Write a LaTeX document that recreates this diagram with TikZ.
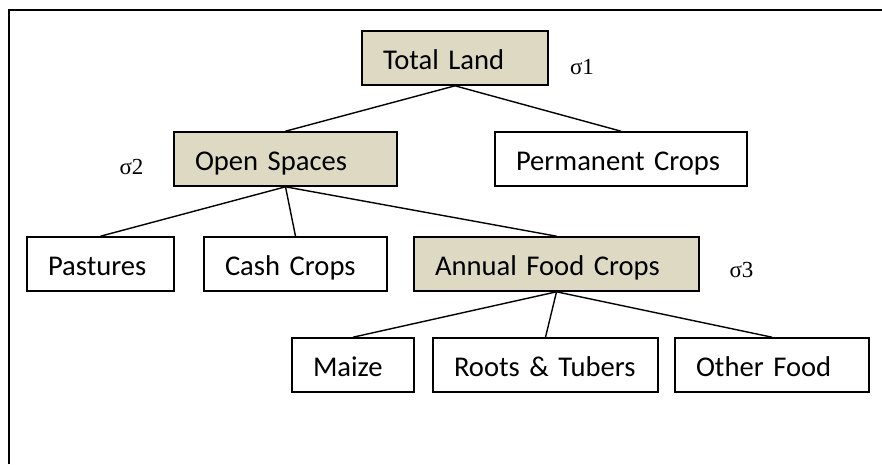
\documentclass[tikz,border=0pt]{standalone}
\usepackage{fontspec}
\setmainfont{Carlito}
\newfontfamily\sigfont{Liberation Serif}
\usepackage{xcolor}
\definecolor{tanfill}{RGB}{221,217,195}

\begin{document}
\begin{tikzpicture}[x=1pt,y=-1pt,
	box/.style={draw, line width=1.6pt, fill=white, minimum height=54pt,
		inner xsep=21pt, inner ysep=0pt, align=left,
		text height=24pt, text depth=2pt,
		font=\fontsize{28.6}{34}\selectfont},
	shaded/.style={box, fill=tanfill},
	sig/.style={inner sep=0pt, font=\sigfont\fontsize{23}{27}\selectfont},
	link/.style={line width=1.4pt}]
	\useasboundingbox (0,0) rectangle (882,464);

	% Khung
	\draw[line width=2pt] (9,464) -- (9,9.5) -- (882,9.5);

	% Tang 1
	\node[shaded, text width=144pt] (total) at (455,58) {Total Land};
	\node[sig] (s1) at (582,67) {σ1};

	% Tang 2
	\node[shaded, text width=181pt] (open) at (285.5,159) {Open Spaces};
	\node[box, text width=210pt] (perm) at (621,159) {Permanent Crops};
	\node[sig] (s2) at (131.5,167) {σ2};

	% Tang 3
	\node[box, text width=105pt] (past) at (100.5,264) {Pastures};
	\node[box, text width=141pt] (cash) at (295.5,264) {Cash Crops};
	\node[shaded, text width=243pt] (annual) at (556.5,264) {Annual Food Crops};
	\node[sig] (s3) at (741.5,270) {σ3};

	% Tang 4
	\node[box, text width=80pt] (maize) at (353,365) {Maize};
	\node[box, text width=183pt] (roots) at (545.5,365) {Roots \& Tubers};
	\node[box, text width=152pt] (other) at (772,365) {Other Food};

	% Duong noi
	\draw[link] (total.south) -- (open.north);
	\draw[link] (total.south) -- (perm.north);
	\draw[link] (open.south) -- (past.north);
	\draw[link] (open.south) -- (cash.north);
	\draw[link] (open.south) -- (annual.north);
	\draw[link] (annual.south) -- (maize.north);
	\draw[link] (annual.south) -- (roots.north);
	\draw[link] (annual.south) -- (other.north);
\end{tikzpicture}
\end{document}
